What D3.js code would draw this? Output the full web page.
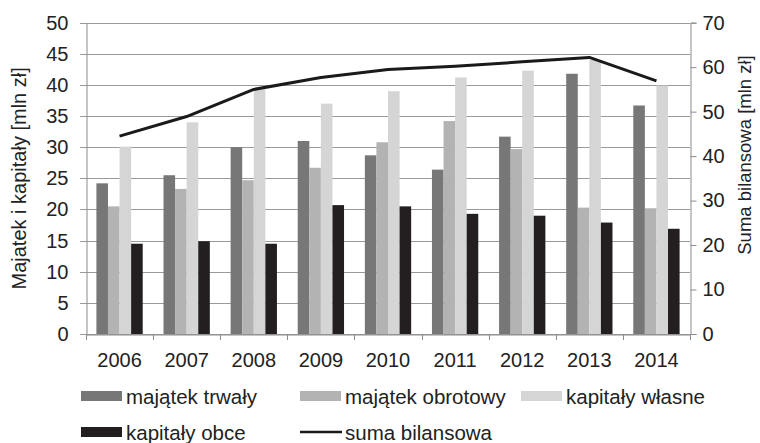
<!DOCTYPE html>
<html><head><meta charset="utf-8">
<script src="https://cdn.jsdelivr.net/npm/d3@7"></script>
<style>
html,body{margin:0;padding:0;background:#fff;}
svg{display:block;font-family:"Liberation Sans",Arial,sans-serif;}
</style></head>
<body><svg id="chart" width="760" height="443"></svg>
<script>
const years = ['2006','2007','2008','2009','2010','2011','2012','2013','2014'];
const majatekTrwaly   = [24.2, 25.5, 30.0, 31.0, 28.7, 26.4, 31.7, 41.8, 36.7];
const majatekObrotowy = [20.5, 23.3, 24.7, 26.7, 30.8, 34.2, 29.7, 20.3, 20.2];
const kapitalyWlasne  = [30.1, 34.0, 39.3, 37.0, 39.0, 41.2, 42.3, 44.0, 39.9];
const kapitalyObce    = [14.5, 14.9, 14.5, 20.7, 20.5, 19.3, 19.0, 17.9, 16.9];
const sumaBilansowa   = [44.5, 48.9, 55.0, 57.7, 59.5, 60.2, 61.2, 62.2, 56.9];
const leftTicks  = [0,5,10,15,20,25,30,35,40,45,50];
const rightTicks = [0,10,20,30,40,50,60,70];
const seriesNames = ['majątek trwały','majątek obrotowy','kapitały własne','kapitały obce'];
const lineName = 'suma bilansowa';
const leftTitle = 'Majatek i kapitały [mln zł]';
const rightTitle = 'Suma bilansowa [mln zł]';

const colors = ['#777777','#b3b3b3','#d5d5d5','#231f20'];
const textColor = '#222222';
const axisColor = '#8c8c8c';
const gridColor = '#9a9a9a';

const svg = d3.select('#chart');
const m = {left:86, right:690, top:22.7, bottom:334};

const x = d3.scaleBand().domain(years).range([m.left, m.right]).paddingInner(0).paddingOuter(0);
const yL = d3.scaleLinear().domain([0,50]).range([m.bottom, m.top]);
const yR = d3.scaleLinear().domain([0,70]).range([m.bottom, m.top]);
const groupPad = 0.155;
const x1 = d3.scaleBand().domain(d3.range(4))
  .range([x.bandwidth()*groupPad, x.bandwidth()*(1-groupPad)]).padding(0);

// gridlines
svg.append('g').selectAll('line').data(leftTicks).join('line')
  .attr('x1', m.left-6).attr('x2', m.right)
  .attr('y1', d=>Math.round(yL(d))+0.5).attr('y2', d=>Math.round(yL(d))+0.5)
  .attr('stroke', gridColor).attr('stroke-width',1);

// bars
const seriesArr = [majatekTrwaly, majatekObrotowy, kapitalyWlasne, kapitalyObce];
const g = svg.append('g');
seriesArr.forEach((arr, si) => {
  g.append('g').selectAll('rect').data(arr).join('rect')
    .attr('x', (d,i)=>x(years[i]) + x1(si))
    .attr('width', x1.bandwidth())
    .attr('y', d=>yL(d))
    .attr('height', d=>yL(0)-yL(d))
    .attr('fill', colors[si]);
});

// axes
const leftAxis = d3.axisLeft(yL).tickValues(leftTicks).tickSize(0).tickPadding(18);
const la = svg.append('g').attr('transform',`translate(${m.left+0.5},0)`).call(leftAxis);
la.select('.domain').attr('stroke',axisColor);
la.selectAll('text').attr('font-size',20).attr('fill',textColor).attr('font-family','"Liberation Sans",Arial,sans-serif');

const rightAxis = d3.axisRight(yR).tickValues(rightTicks).tickSize(6).tickPadding(6);
const ra = svg.append('g').attr('transform',`translate(${m.right+0.5},0)`).call(rightAxis);
ra.select('.domain').attr('stroke',axisColor);
ra.selectAll('line').attr('stroke',axisColor);
ra.selectAll('text').attr('font-size',20).attr('fill',textColor).attr('font-family','"Liberation Sans",Arial,sans-serif');

const bottomAxis = d3.axisBottom(x).tickSize(0).tickPadding(18);
const ba = svg.append('g').attr('transform',`translate(0,${m.bottom+0.5})`).call(bottomAxis);
ba.select('.domain').attr('stroke',axisColor);
ba.selectAll('text').attr('font-size',20).attr('fill',textColor).attr('font-family','"Liberation Sans",Arial,sans-serif');
// category boundary ticks
const bounds = years.map(d=>x(d)).concat([x(years[years.length-1])+x.bandwidth()]);
svg.append('g').selectAll('line').data(bounds).join('line')
  .attr('x1', d=>Math.round(d)+0.5).attr('x2', d=>Math.round(d)+0.5)
  .attr('y1', m.bottom).attr('y2', m.bottom+6)
  .attr('stroke', axisColor);

// line
const line = d3.line().x((d,i)=>x(years[i])+x.bandwidth()/2).y(d=>yR(d));
svg.append('path').datum(sumaBilansowa).attr('d', line)
  .attr('fill','none').attr('stroke','#1a1a1a').attr('stroke-width',3).attr('stroke-linejoin','round');

// axis titles
svg.append('text').attr('transform',`translate(26,${(m.top+m.bottom)/2}) rotate(-90)`)
  .attr('text-anchor','middle').attr('font-size',20).attr('fill',textColor).text(leftTitle);
svg.append('text').attr('transform',`translate(751,${155}) rotate(-90)`)
  .attr('text-anchor','middle').attr('font-size',18.5).attr('fill',textColor).text(rightTitle);

// legend
const legendItems = [
  {name:seriesNames[0], type:'rect', color:colors[0], x:81, y:396},
  {name:seriesNames[1], type:'rect', color:colors[1], x:300, y:396},
  {name:seriesNames[2], type:'rect', color:colors[2], x:521, y:396},
  {name:seriesNames[3], type:'rect', color:colors[3], x:81, y:432},
  {name:lineName, type:'line', color:'#1a1a1a', x:300, y:432}
];
const lg = svg.append('g').selectAll('g').data(legendItems).join('g')
  .attr('transform', d=>`translate(${d.x},${d.y})`);
lg.filter(d=>d.type==='rect').append('rect').attr('x',0).attr('y',-5).attr('width',41).attr('height',10).attr('fill',d=>d.color);
lg.filter(d=>d.type==='line').append('line').attr('x1',0).attr('x2',42).attr('y1',0).attr('y2',0).attr('stroke',d=>d.color).attr('stroke-width',2.5);
lg.append('text').attr('x',45).attr('y',8).attr('font-size',20.5).attr('fill',textColor).text(d=>d.name);
</script></body></html>
